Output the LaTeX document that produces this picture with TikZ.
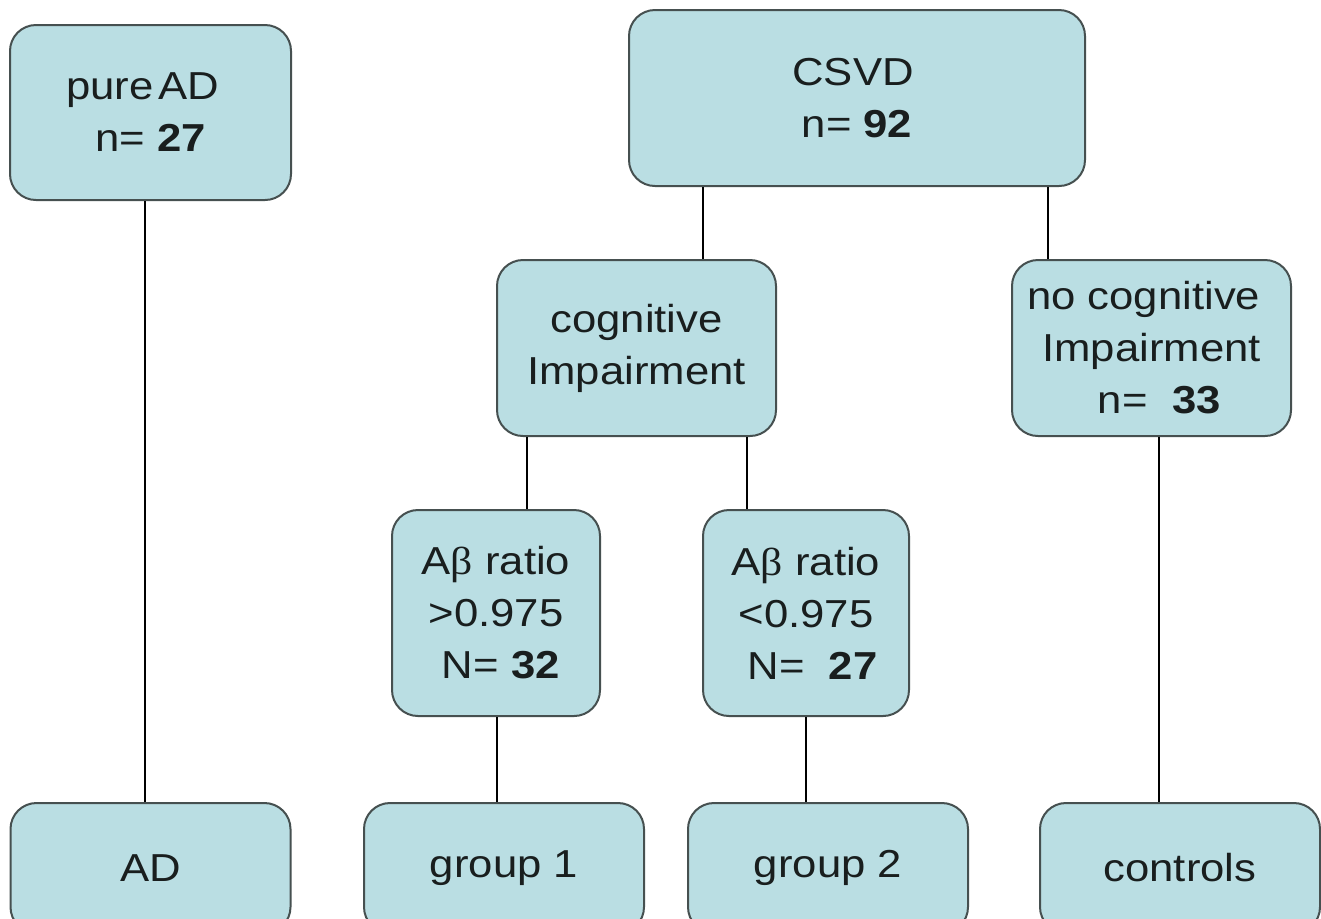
\documentclass[tikz,border=0pt]{standalone}
\usepackage{fontspec}
\setmainfont{Liberation Sans}[FakeStretch=1.12]
\newfontfamily\betafont{Liberation Serif}[FakeStretch=1.12]
\definecolor{boxfill}{RGB}{186,222,227}
\definecolor{boxline}{RGB}{70,80,80}
\definecolor{txt}{RGB}{25,30,30}
\begin{document}
\begin{tikzpicture}[x=0.5pt,y=-0.5pt,
  box/.style={draw=boxline, line width=1pt, fill=boxfill, rounded corners=13pt,
    inner sep=0pt, align=center, text=txt,
    font=\fontsize{19.5}{26}\selectfont},
  link/.style={draw=black, line width=0.8pt}]
\useasboundingbox (0,0) rectangle (1321,918);
\clip (0,0) rectangle (1321,918);
\fill[white] (0,0) rectangle (1321,918);
% nodes
\node[box, minimum width=140.5pt, minimum height=87.5pt] (pureAD) at (150.5,112.5)
  {pure\hspace{0.12em}AD\hspace*{0.4em}\\ n= \textbf{27}};
\node[box, minimum width=228pt, minimum height=88pt] (CSVD) at (857,98)
  {CSVD\hspace*{0.2em}\\ n= \textbf{92}};
\node[box, minimum width=139.5pt, minimum height=88pt] (cog) at (636.5,348)
  {cognitive\\ Impairment};
\node[box, minimum width=139.5pt, minimum height=88pt] (nocog) at (1151.5,348)
  {no cognitive\hspace*{0.4em}\\ Impairment\hspace*{0.2em}\\ \hspace*{0.4em}n=\ \ \textbf{33}};
\node[box, minimum width=104pt, minimum height=103pt] (ab1) at (496,613)
  {A{\betafont β} ratio\\ >0.975\\ \hspace*{0.25em}N= \textbf{32}};
\node[box, minimum width=103pt, minimum height=103pt] (ab2) at (806,613)
  {A{\betafont β} ratio\\ <0.975\hspace*{0.2em}\\ \hspace*{0.33em}N=\ \ \textbf{27}};
\node[box, minimum width=140pt, minimum height=65pt] (AD) at (150.5,868) {AD};
\node[box, minimum width=140pt, minimum height=65pt] (g1) at (504,868) {group 1};
\node[box, minimum width=140pt, minimum height=65pt] (g2) at (828,868) {group 2};
\node[box, minimum width=140pt, minimum height=65pt] (ctrl) at (1180,868) {controls};
% connectors
\draw[link] (pureAD.south) ++(-5.5,0) coordinate (p1) -- (p1 |- AD.north);
\draw[link] (CSVD.south) ++(-154,0) coordinate (c1) -- (c1 |- cog.north);
\draw[link] (CSVD.south) ++(191,0) coordinate (c2) -- (c2 |- nocog.north);
\draw[link] (cog.south) ++(-109.5,0) coordinate (q1) -- (q1 |- ab1.north);
\draw[link] (cog.south) ++(110.5,0) coordinate (q2) -- (q2 |- ab2.north);
\draw[link] (ab1.south) ++(1,0) coordinate (r1) -- (r1 |- g1.north);
\draw[link] (ab2.south) coordinate (r2) -- (r2 |- g2.north);
\draw[link] (nocog.south) ++(7.5,0) coordinate (n1) -- (n1 |- ctrl.north);
\end{tikzpicture}
\end{document}
